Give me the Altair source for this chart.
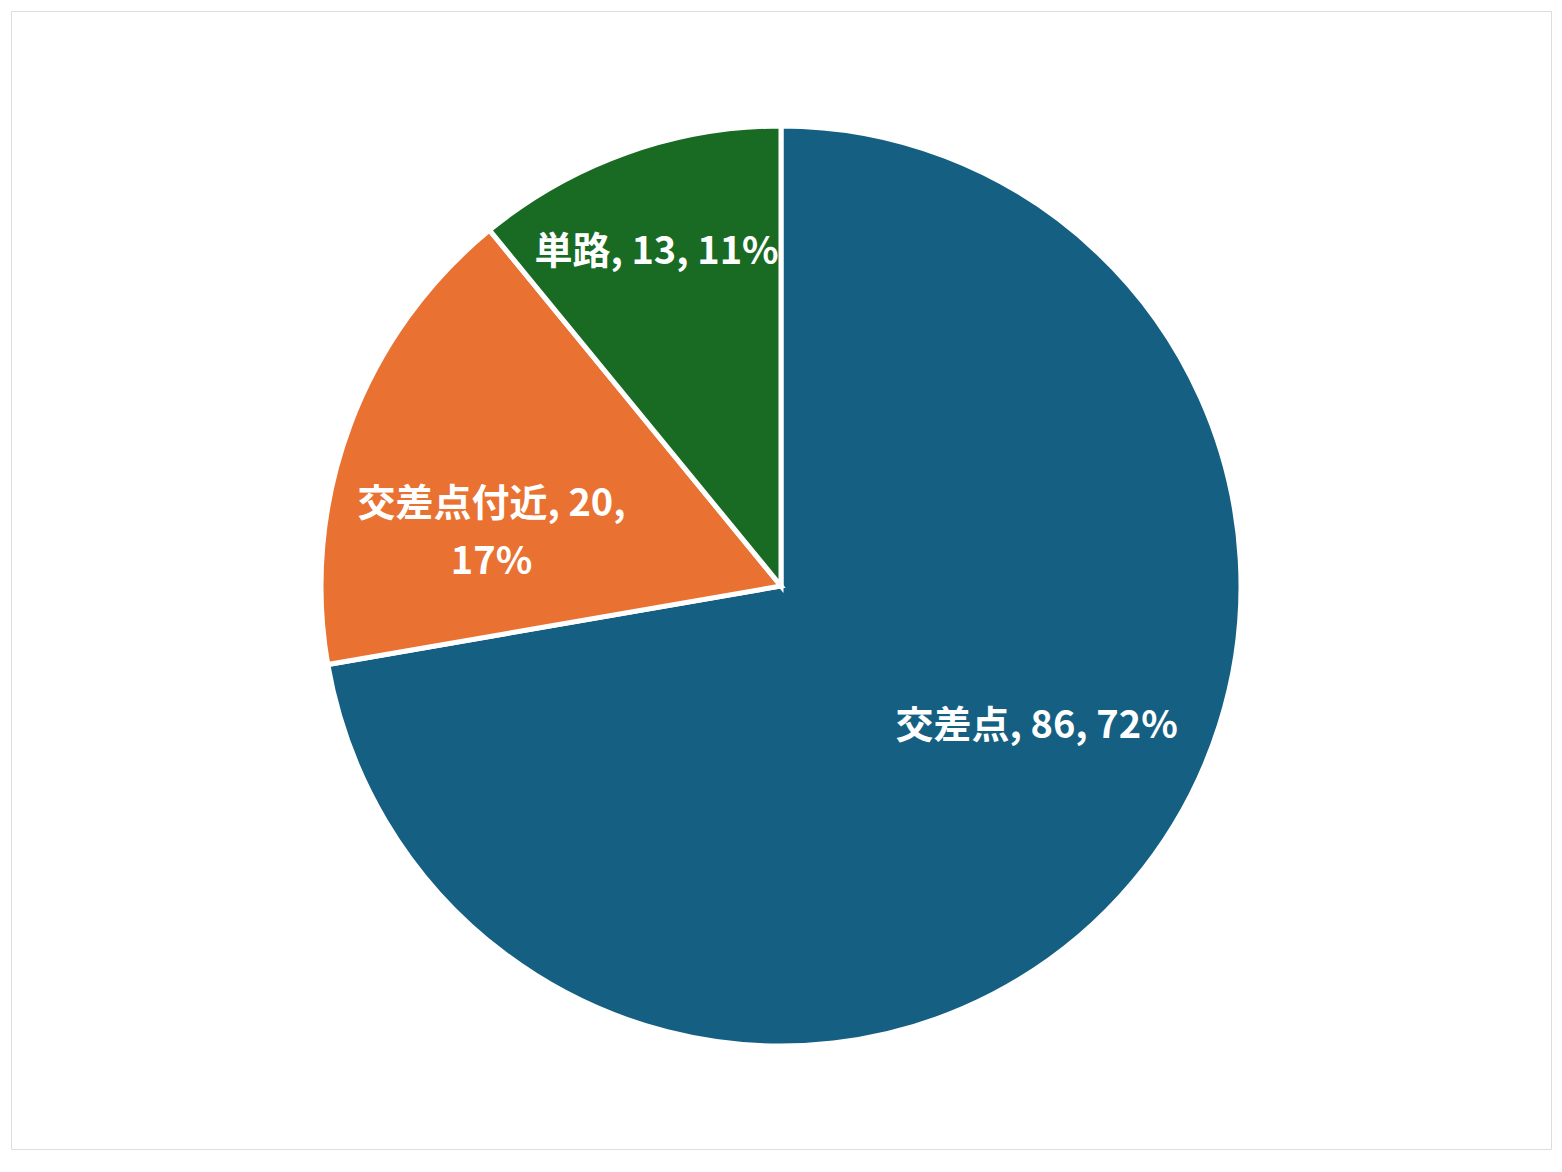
import altair as alt
import pandas as pd

categories = ["交差点", "交差点付近", "単路"]
values = [86, 20, 13]
order_idx = [0, 1, 2]
colors = ["#156082", "#E97132", "#196B24"]

df = pd.DataFrame({"cat": categories, "value": values, "idx": order_idx})

CX, CY, R = 770, 575, 460
FONT = "Noto Sans CJK JP"

arc = alt.Chart(df).mark_arc(outerRadius=R, stroke="white", strokeWidth=5).encode(
    theta=alt.Theta("value:Q", stack=True),
    color=alt.Color("cat:N", scale=alt.Scale(domain=categories, range=colors), legend=None),
    order=alt.Order("idx:Q", sort="ascending"),
    x=alt.value(CX),
    y=alt.value(CY),
)

base = (
    alt.Chart(df)
    .transform_joinaggregate(total="sum(value)")
    .transform_window(cum="sum(value)", sort=[alt.SortField("idx", order="ascending")])
    .transform_calculate(
        mid="(datum.cum - datum.value / 2) / datum.total * 2 * PI",
        pct="format(datum.value / datum.total * 100, '.0f') + '%'",
    )
)

def label(cat, radius, dx, dy, sep):
    return (
        base.transform_filter(alt.datum.cat == cat)
        .transform_calculate(lab="datum.cat + ', ' + datum.value + '," + sep + "' + datum.pct")
        .mark_text(
            radius=radius, dx=dx, dy=dy, font=FONT, fontSize=38, fontWeight="bold",
            color="white", align="center", baseline="middle", lineBreak="\n", lineHeight=58,
        )
        .encode(
            theta=alt.Theta("mid:Q", scale=None),
            text="lab:N",
            x=alt.value(CX),
            y=alt.value(CY),
        )
    )

chart = (
    alt.layer(
        arc,
        label("交差点", 291, 33, -46, " "),
        label("交差点付近", 295, -13, 22, "\\n"),
        label("単路", 358, -4, 4, " "),
    )
    .properties(width=1540, height=1138, padding=3, autosize=alt.AutoSizeParams(type="none"))
    .configure_view(stroke="#D9D9D9", strokeWidth=3)
    .configure(background="white")
)

chart.save("out.html", embed_options={"renderer": "svg", "actions": False})
